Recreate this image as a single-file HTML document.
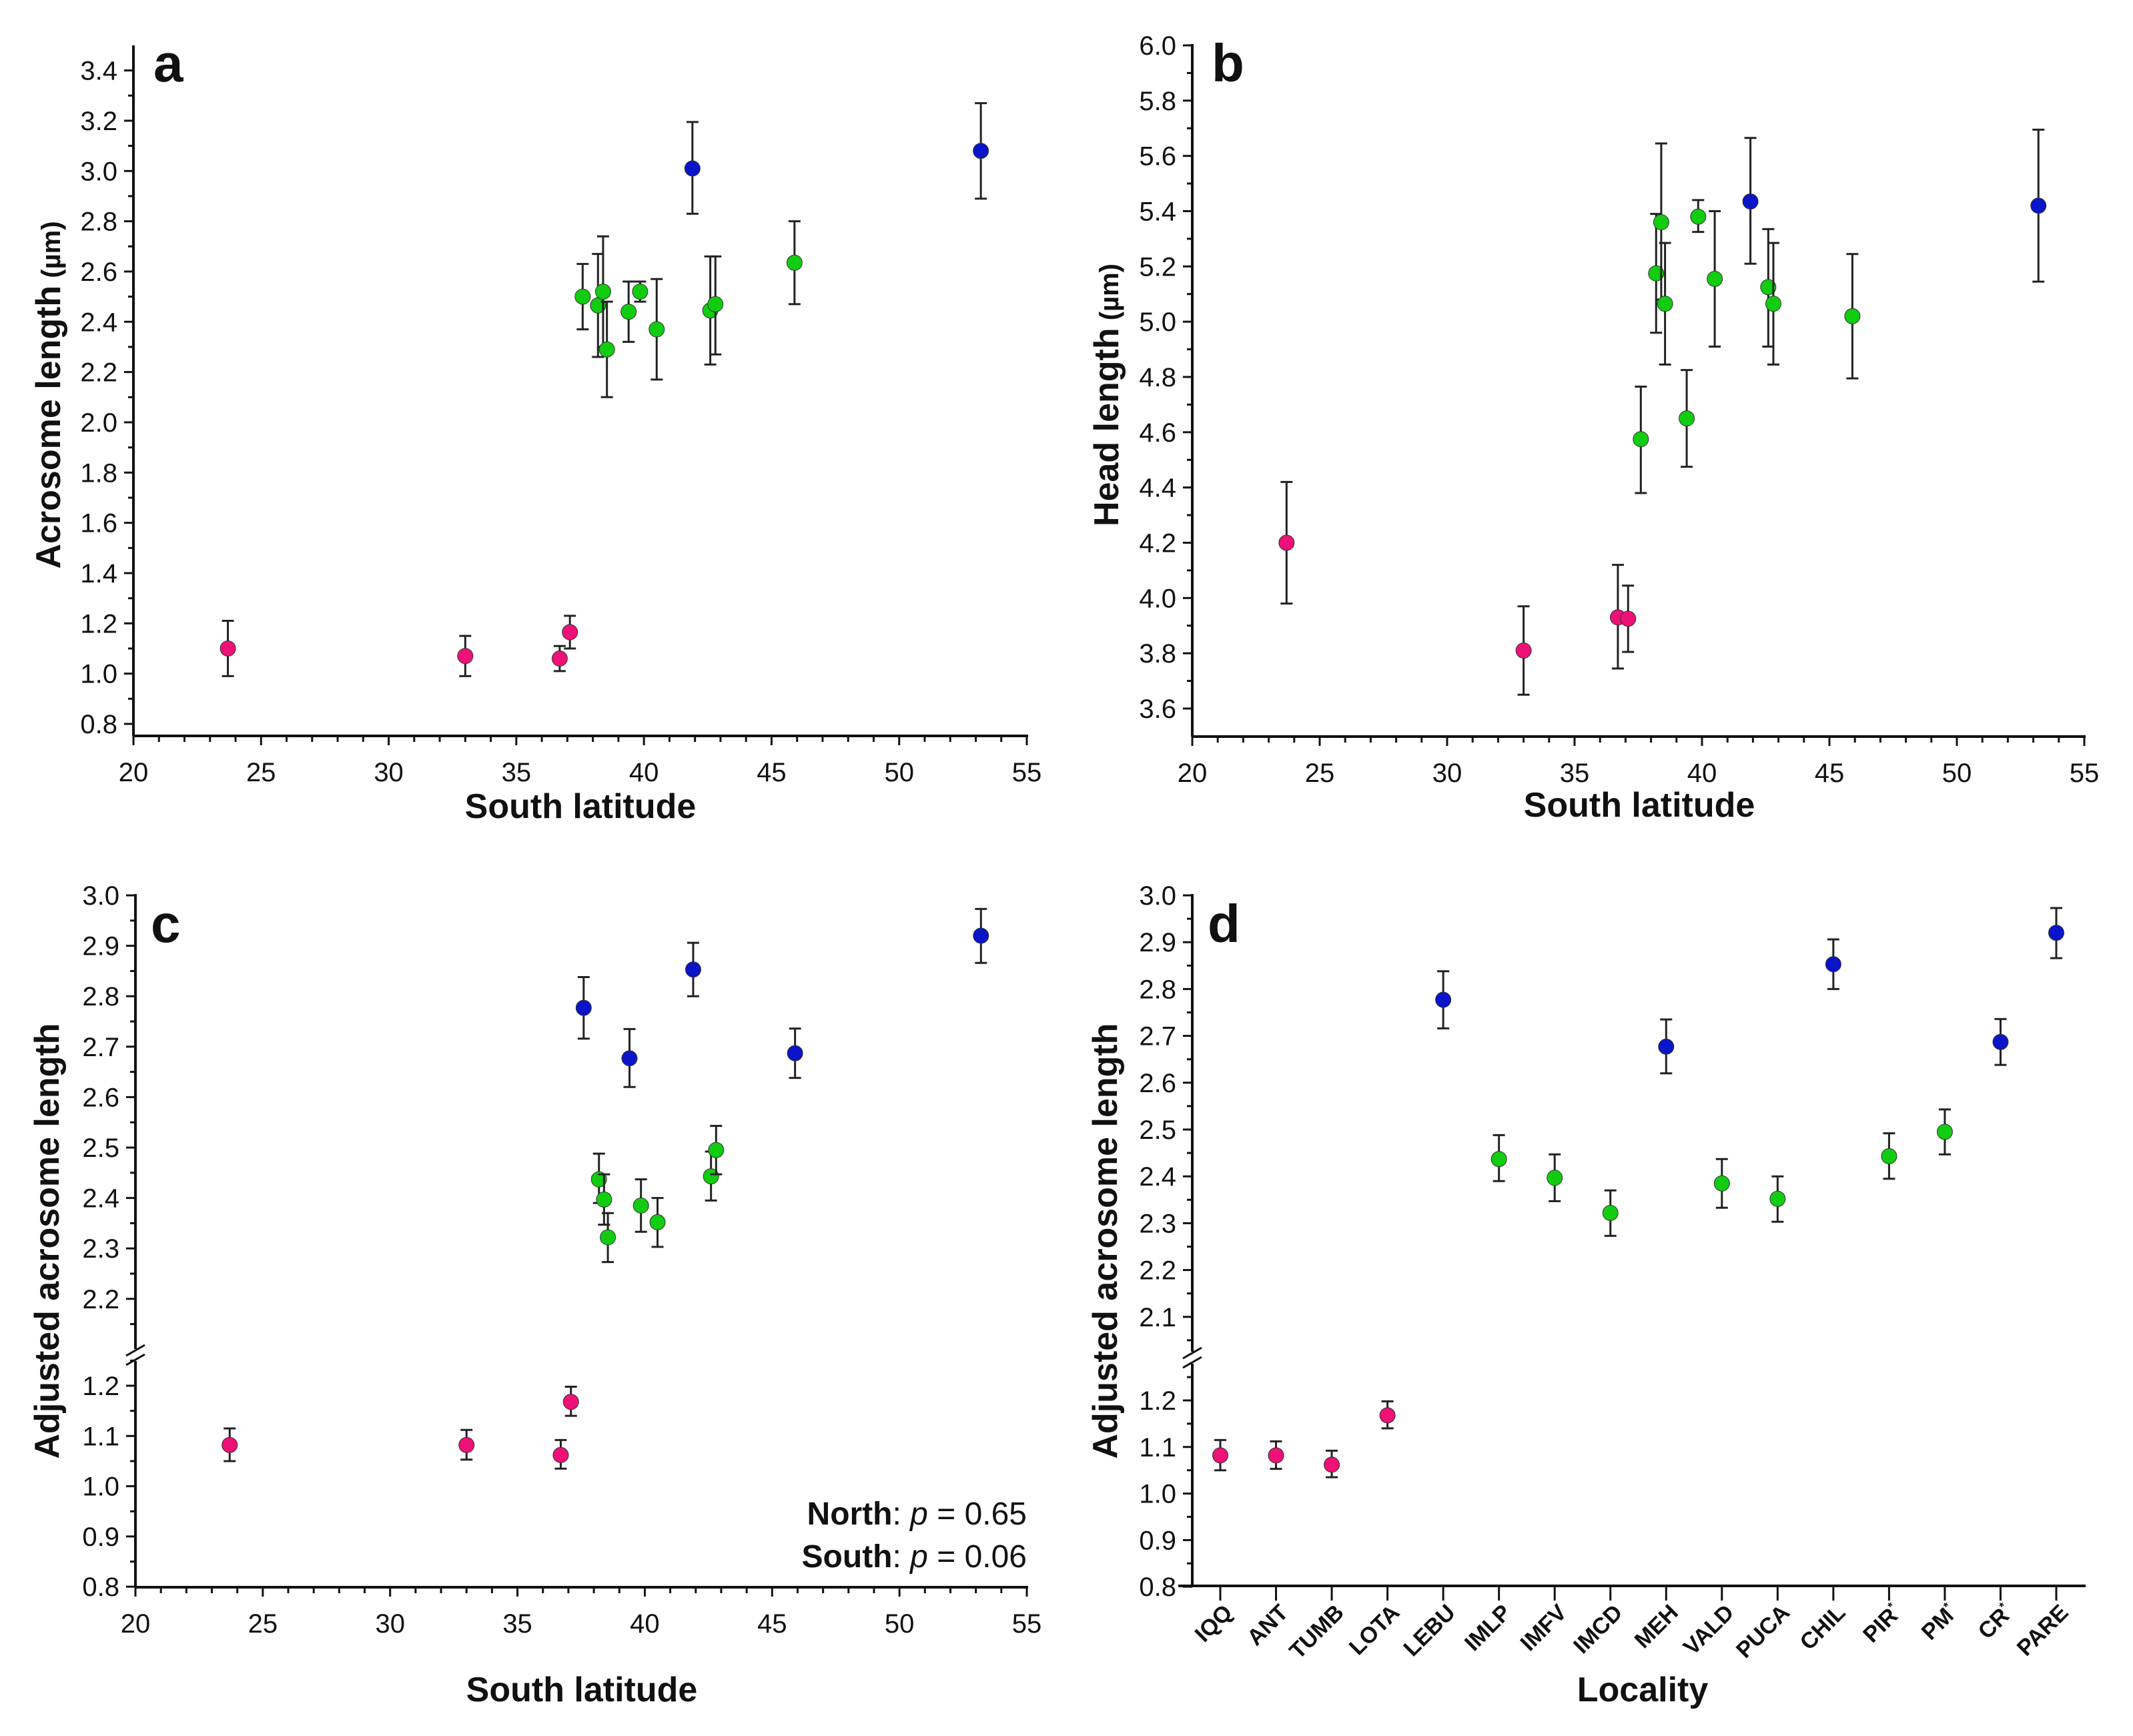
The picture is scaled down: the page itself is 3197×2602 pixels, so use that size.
<!DOCTYPE html>
<html><head><meta charset="utf-8"><style>
html,body{margin:0;padding:0;background:#fff}
svg{display:block}
text{font-family:"Liberation Sans",Arial,sans-serif;fill:#111}
</style></head><body>
<svg id="fig" width="3197" height="2602" viewBox="0 0 3197 2602" xmlns="http://www.w3.org/2000/svg"></svg>
<script>
// ---- data ----
const lats = [23.7,33.0,36.7,37.1,37.6,38.2,38.4,38.55,39.4,39.85,40.5,41.9,42.6,42.8,45.9,53.2];
const localities = ["IQQ","ANT","TUMB","LOTA","LEBU","IMLP","IMFV","IMCD","MEH","VALD","PUCA","CHIL","PIR*","PM*","CR*","PARE"];
const groupA = ["n","n","n","n","g","g","g","g","g","g","g","b","g","g","g","b"];
const groupC = ["n","n","n","n","b","g","g","g","b","g","g","b","g","g","b","b"];
const acroMean = [1.10,1.07,1.06,1.165,2.50,2.465,2.52,2.29,2.44,2.52,2.37,3.01,2.445,2.47,2.635,3.08];
const acroLo   = [0.99,0.99,1.01,1.10,2.37,2.26,2.30,2.10,2.32,2.48,2.17,2.83,2.23,2.27,2.47,2.89];
const acroHi   = [1.21,1.15,1.11,1.23,2.63,2.67,2.74,2.48,2.56,2.56,2.57,3.195,2.66,2.66,2.80,3.27];
const headMean = [4.20,3.81,3.93,3.925,4.575,5.175,5.36,5.065,4.65,5.38,5.155,5.435,5.125,5.065,5.02,5.42];
const headLo   = [3.98,3.65,3.745,3.805,4.38,4.96,5.08,4.845,4.475,5.325,4.91,5.21,4.91,4.845,4.795,5.145];
const headHi   = [4.42,3.97,4.12,4.045,4.765,5.39,5.645,5.285,4.825,5.44,5.40,5.665,5.335,5.285,5.245,5.695];
const adjMean  = [1.082,1.082,1.062,1.168,2.777,2.437,2.397,2.322,2.677,2.385,2.352,2.853,2.443,2.495,2.687,2.92];
const adjLo    = [1.05,1.053,1.035,1.14,2.716,2.39,2.347,2.273,2.62,2.333,2.303,2.80,2.395,2.447,2.638,2.866];
const adjHi    = [1.115,1.112,1.092,1.198,2.838,2.488,2.447,2.37,2.735,2.437,2.40,2.906,2.492,2.543,2.736,2.973];
const latTicks = [20,25,30,35,40,45,50,55];
const ticksA = [0.8,1.0,1.2,1.4,1.6,1.8,2.0,2.2,2.4,2.6,2.8,3.0,3.2,3.4];
const ticksB = [3.6,3.8,4.0,4.2,4.4,4.6,4.8,5.0,5.2,5.4,5.6,5.8,6.0];
const ticksUpC = [2.2,2.3,2.4,2.5,2.6,2.7,2.8,2.9,3.0];
const ticksUpD = [2.1,2.2,2.3,2.4,2.5,2.6,2.7,2.8,2.9,3.0];
const ticksLow = [0.8,0.9,1.0,1.1,1.2];

const NS="http://www.w3.org/2000/svg";
const svg=document.getElementById('fig');
const COL={n:"#ee1177",g:"#11cc11",b:"#0a14c8"};
function el(tag,attrs,parent){const e=document.createElementNS(NS,tag);for(const k in attrs)e.setAttribute(k,attrs[k]);(parent||svg).appendChild(e);return e;}
function fmt(v){return v.toFixed(1);}
function linScale(d0,d1,r0,r1){return v=>r0+(v-d0)*(r1-r0)/(d1-d0);}

function drawPanel(P){
  const g=el('g',{});
  
  
  const ax=P.axisX, ay=P.axisY;
  const xa=el('line',{x1:P.xStart,y1:ay,x2:P.xEnd,y2:ay,stroke:'#111','stroke-width':4},g);
  
  
  P.ySegs.forEach(s=>{
    const l=el('line',{x1:ax,y1:s[0],x2:ax,y2:s[1],stroke:'#111','stroke-width':4},g);
    
    
  });
  if(P.breakY){
    [-7,7].forEach(o=>{
      const b=el('line',{x1:ax-14,y1:P.breakY+o+8,x2:ax+14,y2:P.breakY+o-8,stroke:'#111','stroke-width':3},g);
      
      
    });
  }
  P.yTickSets.forEach(ts=>{
    ts.ticks.forEach((v,i)=>{
      const y=ts.scale(v);
      el('line',{x1:ax-14,y1:y,x2:ax,y2:y,stroke:'#111','stroke-width':3},g);
      const t=el('text',{x:ax-24,y:y+14,'text-anchor':'end','font-size':40},g);
      t.textContent=fmt(v);
      
      
      const vm=v+ts.step/2;
      if(ts.minorOk(vm)){const ym=ts.scale(vm);el('line',{x1:ax-8,y1:ym,x2:ax,y2:ym,stroke:'#111','stroke-width':3},g);}
    });
    if(ts.extraMinor!==undefined){const ym=ts.scale(ts.extraMinor);el('line',{x1:ax-8,y1:ym,x2:ax,y2:ym,stroke:'#111','stroke-width':3},g);}
  });
  if(P.xLat){
    const xs=P.xs;
    for(let v=20;v<=55;v++){
      const major=v%5===0;
      el('line',{x1:xs(v),y1:ay,x2:xs(v),y2:ay+(major?14:9),stroke:'#111','stroke-width':3},g);
    }
    latTicks.forEach(v=>{
      const t=el('text',{x:xs(v),y:ay+68,'text-anchor':'middle','font-size':40},g);
      t.textContent=v;
      
      
    });
  } else {
    localities.forEach((n,i)=>{
      const x=P.xs(i);
      el('line',{x1:x,y1:ay,x2:x,y2:ay+22,stroke:'#111','stroke-width':3},g);
      const base=n.replace('*','');
      const t=el('text',{x:x+20,y:ay+42,'text-anchor':'end','font-size':34,'font-weight':'bold',transform:`rotate(-45 ${x+20} ${ay+42})`},g);
      t.textContent=base;
      if(n.includes('*')){const s=el('tspan',{'font-size':18,dy:-14},t);s.textContent='*';}
      
      
    });
  }
  const n=P.mean.length;
  for(let i=0;i<n;i++){
    const x=P.xLat?P.xs(lats[i]):P.xs(i);
    const ys=P.ys;
    const yl=ys(P.lo[i]),yh=ys(P.hi[i]),ym=ys(P.mean[i]);
    const eb=el('g',{stroke:'#222','stroke-width':3},g);
    
    
    el('line',{x1:x,y1:yl,x2:x,y2:yh},eb);
    el('line',{x1:x-9,y1:yl,x2:x+9,y2:yl},eb);
    el('line',{x1:x-9,y1:yh,x2:x+9,y2:yh},eb);
    const c=el('circle',{cx:x,cy:ym,r:11.5,fill:COL[P.grp[i]],stroke:'#333','stroke-width':1},g);
    
    
  }
  const lt=el('text',{x:P.letterX,y:P.letterY,'font-size':80,'font-weight':'bold'},g);
  lt.textContent=P.letter;
  
  
  const xt=el('text',{x:P.xTitleX,y:P.xTitleY,'text-anchor':'middle','font-size':52,'font-weight':'bold'},g);
  xt.textContent=P.xTitle;
  
  
  const yt=el('text',{x:0,y:0,'text-anchor':'middle','font-size':52,'font-weight':'bold',transform:`translate(${P.yTitleX},${P.yTitleY}) rotate(-90)`},g);
  yt.textContent=P.yTitle;
  if(P.yUnit){const s=el('tspan',{'font-size':40,'font-weight':'bold'},yt);s.textContent=' (µm)';}
  
  
  return g;
}

function brokenScale(upTop,upY,upPer,lowTop,lowY,lowPer){
  return v=> v>1.6 ? upY+(upTop-v)*upPer : lowY+(lowTop-v)*lowPer;
}

const xsA=linScale(20,55,200,1539);
const ysA=linScale(0.8,3.4,1085,105.6);
drawPanel({name:'panel-a',letter:'a',letterX:230,letterY:122,axisX:200,axisY:1103,xStart:200,xEnd:1541,
  ySegs:[[68,1103]],yTickSets:[{ticks:ticksA,scale:ysA,step:0.2,minorOk:v=>v<3.5}],
  xLat:true,xs:xsA,ys:ysA,mean:acroMean,lo:acroLo,hi:acroHi,grp:groupA,
  xTitle:'South latitude',xTitleX:870,xTitleY:1226,yTitle:'Acrosome length',yUnit:true,yTitleX:90,yTitleY:592});

const xsB=linScale(20,55,1787,3124);
const ysB=linScale(3.6,6.0,1062,68);
drawPanel({name:'panel-b',letter:'b',letterX:1816,letterY:122,axisX:1787,axisY:1104,xStart:1787,xEnd:3126,
  ySegs:[[66,1104]],yTickSets:[{ticks:ticksB,scale:ysB,step:0.2,minorOk:v=>v<6.0}],
  xLat:true,xs:xsB,ys:ysB,mean:headMean,lo:headLo,hi:headHi,grp:groupA,
  xTitle:'South latitude',xTitleX:2457,xTitleY:1224,yTitle:'Head length',yUnit:true,yTitleX:1676,yTitleY:592});

const xsC=linScale(20,55,203,1539);
const ysC=brokenScale(3.0,1342,756,1.2,2077,753);
drawPanel({name:'panel-c',letter:'c',letterX:226,letterY:1412,axisX:203,axisY:2379,xStart:203,xEnd:1541,
  ySegs:[[1340,2022],[2040,2379]],breakY:2031,
  yTickSets:[{ticks:ticksUpC,scale:ysC,step:0.1,minorOk:v=>v<3.0,extraMinor:2.15},{ticks:ticksLow,scale:ysC,step:0.1,minorOk:v=>v<1.26}],
  xLat:true,xs:xsC,ys:ysC,mean:adjMean,lo:adjLo,hi:adjHi,grp:groupC,
  xTitle:'South latitude',xTitleX:872,xTitleY:2550,yTitle:'Adjusted acrosome length',yTitleX:88,yTitleY:1860});

const xsD=linScale(0,15,1829,3082);
const ysD=brokenScale(3.0,1342,702,1.2,2099,698);
drawPanel({name:'panel-d',letter:'d',letterX:1810,letterY:1412,axisX:1787,axisY:2377,xStart:1766,xEnd:3126,
  ySegs:[[1340,2026],[2044,2377]],breakY:2035,
  yTickSets:[{ticks:ticksUpD,scale:ysD,step:0.1,minorOk:v=>v<3.0,extraMinor:2.05},{ticks:ticksLow,scale:ysD,step:0.1,minorOk:v=>v<1.26}],
  xLat:false,xs:xsD,ys:ysD,mean:adjMean,lo:adjLo,hi:adjHi,grp:groupC,
  xTitle:'Locality',xTitleX:2462,xTitleY:2550,yTitle:'Adjusted acrosome length',yTitleX:1674,yTitleY:1860});

const a1=el('text',{x:1539,y:2285,'text-anchor':'end','font-size':48});
a1.innerHTML='<tspan font-weight="bold">North</tspan>:  <tspan font-style="italic">p</tspan> = 0.65';


const a2=el('text',{x:1539,y:2349,'text-anchor':'end','font-size':48});
a2.innerHTML='<tspan font-weight="bold">South</tspan>: <tspan font-style="italic">p</tspan> = 0.06';


</script>
</body></html>
